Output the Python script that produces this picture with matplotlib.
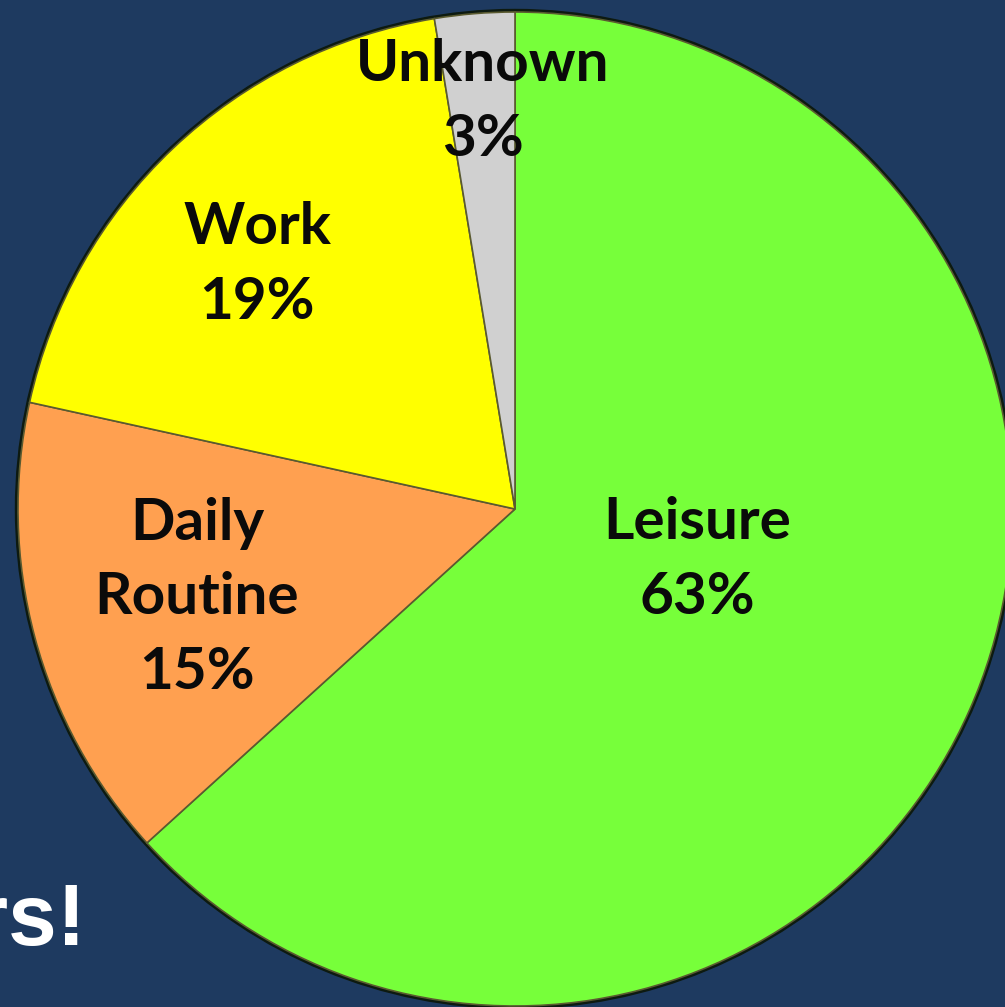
import numpy as np
import matplotlib.pyplot as plt
from matplotlib.patches import Circle

labels = ['Leisure', 'Daily\nRoutine', 'Work', 'Unknown']
shares = [63.4, 15.2, 19.0, 2.6]
colors = ['#77FF3A', '#FFA050', '#FFFF00', '#D0D0D0']

# label placement (pixel coords, y from top)
label_xy = [(697, 560), (197, 598), (257, 265), (483, 102)]

W, H = 1005, 1007
bg = '#1E3A60'

fig = plt.figure(figsize=(W / 100, H / 100), dpi=100, facecolor=bg)
ax = fig.add_axes([0, 0, 1, 1])
ax.set_facecolor(bg)

cx, cy, r = 515, H - 509, 497

# dark rim under the pie
ax.add_patch(Circle((cx, cy), r + 2.5, color='#0d1a10', zorder=1))

wedges, _ = ax.pie(shares, colors=colors, startangle=90, counterclock=False,
                   center=(cx, cy), radius=r, frame=True,
                   wedgeprops=dict(edgecolor='#5a5a30', linewidth=1.2, zorder=2))
ax.set_xlim(0, W)
ax.set_ylim(0, H)
ax.set_aspect('auto')
ax.axis('off')

for lab, v, (x, y) in zip(labels, shares, label_xy):
    ax.text(x, H - y, f'{lab}\n{int(round(v))}%', ha='center', va='center',
            fontsize=42, fontweight='bold', family='Lato', color='#0a0a0a',
            linespacing=1.5, zorder=5)

# title fragment from the slide, cut off at the left edge
ax.text(86, H - 945, 'rs!', ha='right', va='baseline', fontsize=63,
        fontweight='bold', family='Liberation Sans', color='white', zorder=6)

fig.savefig('out.png', dpi=100, facecolor=bg)
